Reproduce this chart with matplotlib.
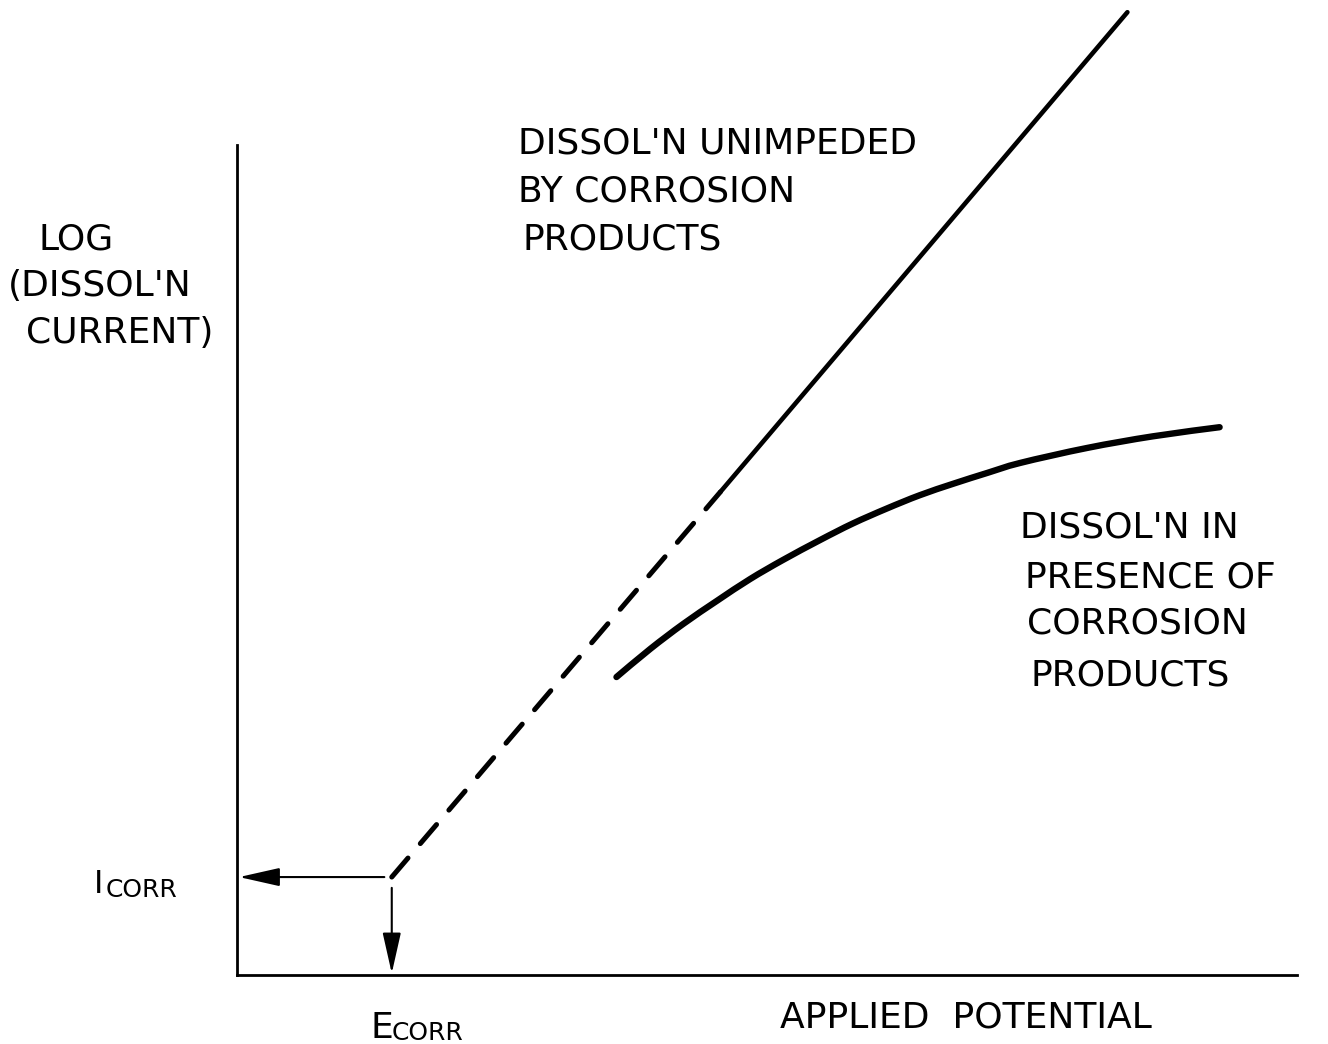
import matplotlib
matplotlib.use("Agg")
import matplotlib.pyplot as plt
from matplotlib.path import Path
from matplotlib.patches import PathPatch

W, H = 1328, 1044

# schematic values, arbitrary units (potential on x, log current on y)
e_corr = 1.46
i_corr = 1.18

# straight Tafel line: extrapolated (dashed) part and measured (solid) part
dashed_potential = [1.46, 4.56]
dashed_logi = [1.18, 5.82]
solid_potential = [4.56, 8.40]
solid_logi = [5.82, 11.60]

# dissolution in presence of corrosion products
curve_potential = [3.58, 3.90, 4.21, 4.53, 4.84, 5.15, 5.50, 5.81, 6.13,
                   6.44, 6.76, 7.08, 7.39, 8.02, 8.64, 9.27]
curve_logi = [3.59, 3.93, 4.23, 4.51, 4.77, 5.00, 5.24, 5.44, 5.62,
              5.78, 5.92, 6.05, 6.17, 6.35, 6.49, 6.60]

plt.rcParams['font.family'] = ['DejaVu Sans']

fig = plt.figure(figsize=(W / 100, H / 100), dpi=100)
ax = fig.add_axes([237 / W, 69 / H, 1060 / W, 830 / H])
ax.set_xlim(0, 10)
ax.set_ylim(0, 10)
ax.set_xticks([])
ax.set_yticks([])
for side in ['top', 'right']:
    ax.spines[side].set_visible(False)
for side in ['left', 'bottom']:
    ax.spines[side].set_linewidth(2.0)

ax.plot(dashed_potential, dashed_logi, color='black', lw=3.6,
        dashes=(5, 3.8), dash_capstyle='round', clip_on=False)
ax.plot(solid_potential, solid_logi, color='black', lw=3.3,
        solid_capstyle='round', clip_on=False)


def smooth_path(xs, ys):
    # Catmull-Rom through the points, written as cubic bezier segments
    pts = list(zip(xs, ys))
    verts = [pts[0]]
    codes = [Path.MOVETO]
    for i in range(len(pts) - 1):
        p0 = pts[i - 1] if i > 0 else pts[i]
        p1 = pts[i]
        p2 = pts[i + 1]
        p3 = pts[i + 2] if i + 2 < len(pts) else pts[i + 1]
        c1 = (p1[0] + (p2[0] - p0[0]) / 6, p1[1] + (p2[1] - p0[1]) / 6)
        c2 = (p2[0] - (p3[0] - p1[0]) / 6, p2[1] - (p3[1] - p1[1]) / 6)
        verts += [c1, c2, p2]
        codes += [Path.CURVE4] * 3
    return Path(verts, codes)


ax.add_patch(PathPatch(smooth_path(curve_potential, curve_logi),
                       facecolor='none', edgecolor='black', lw=4.6,
                       capstyle='round', clip_on=False))

arrow = dict(arrowstyle='-|>,head_length=0.4,head_width=0.09',
             mutation_scale=63, lw=1.5, color='black', shrinkA=0, shrinkB=0)
ax.annotate('', xy=(0.02, i_corr), xytext=(e_corr - 0.07, i_corr),
            arrowprops=arrow, annotation_clip=False)
ax.annotate('', xy=(e_corr, 0.02), xytext=(e_corr, i_corr - 0.13),
            arrowprops=arrow, annotation_clip=False)


def label(x, y, s, size=26, ha='left'):
    # x, y in figure pixels from the top-left, y is the baseline
    fig.text(x / W, 1 - y / H, s, fontsize=size, ha=ha, va='baseline')


label(38, 250, "LOG")
label(8, 296, "(DISSOL'N")
label(26, 343, "CURRENT)")

label(518, 153, "DISSOL'N UNIMPEDED")
label(518, 201, "BY CORROSION")
label(522, 250, "PRODUCTS")

label(1020, 538, "DISSOL'N IN")
label(1025, 588, "PRESENCE OF")
label(1027, 634, "CORROSION")
label(1030, 685, "PRODUCTS")

label(94, 893, "I", size=23)
label(106, 897, "CORR", size=18)
label(370, 1038, "E", size=26)
label(392, 1040, "CORR", size=18)

label(966, 1028, "APPLIED  POTENTIAL", ha='center')

fig.savefig("out.png", dpi=100, facecolor='white')
